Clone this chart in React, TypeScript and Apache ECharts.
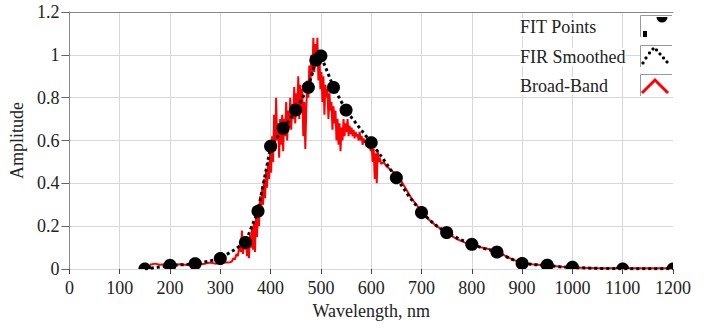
import React, { useEffect, useRef } from "react";
import * as echarts from "echarts";

const xTicks = [0, 100, 200, 300, 400, 500, 600, 700, 800, 900, 1000, 1100, 1200];
const yTicks = [0, 0.2, 0.4, 0.6, 0.8, 1, 1.2];

const fitX = [150, 200, 250, 300, 350, 375, 400, 425, 450, 475, 490, 500, 525, 550, 600, 650, 700, 750, 800, 850, 900, 950, 1000, 1100, 1200];
const fitY = [0, 0.017, 0.025, 0.049, 0.124, 0.27, 0.573, 0.657, 0.742, 0.848, 0.975, 0.995, 0.848, 0.742, 0.59, 0.426, 0.264, 0.17, 0.115, 0.079, 0.026, 0.018, 0.008, 0, 0];

const firX = [150, 175, 200, 225, 250, 275, 300, 325, 350, 375, 400, 425, 450, 475, 490, 500, 525, 550, 575, 600, 625, 650, 675, 700, 725, 750, 775, 800, 825, 850, 875, 900, 925, 950, 975, 1000, 1050, 1100, 1150, 1200];
const firY = [0, 0.008, 0.016, 0.02, 0.025, 0.035, 0.05, 0.085, 0.125, 0.27, 0.57, 0.655, 0.74, 0.85, 0.975, 0.995, 0.85, 0.74, 0.665, 0.59, 0.51, 0.425, 0.34, 0.265, 0.21, 0.17, 0.14, 0.115, 0.095, 0.08, 0.05, 0.027, 0.02, 0.017, 0.01, 0.007, 0.003, 0.001, 0.001, 0.001];

const bbX = [
  160, 170, 180, 190, 200, 210, 220, 230, 240, 250, 260, 270, 280, 290, 300, 310, 320,
  323, 326, 329, 332, 335, 338, 341, 343, 345, 347, 349, 351, 353, 355, 357, 359, 361, 363, 365, 367, 369,
  371, 373, 375, 377, 379, 381, 383, 385, 387, 389, 391, 393, 395, 397, 399, 401, 403, 405, 407, 409,
  411, 413, 415, 417, 419, 421, 423, 425, 427, 429, 431, 433, 435, 437, 439, 441, 443, 445, 447, 449,
  451, 453, 455, 457, 459, 461, 463, 465, 467, 469, 471, 473, 475, 477, 479, 481, 483, 485, 487, 489,
  491, 493, 495, 497, 499, 501, 503, 505, 507, 509, 511, 513, 515, 517, 519, 521, 523, 525, 527, 529,
  531, 533, 535, 537, 539, 541, 543, 545, 547, 549, 551, 553, 555, 557, 559, 561, 563, 565, 567, 569,
  571, 573, 575, 577, 579, 581, 583, 585, 587, 589, 591, 593, 595, 597, 599, 601, 603, 605, 607, 609,
  611, 613, 615, 617, 620, 625, 630, 635, 640, 645, 650, 655, 660, 670, 680, 690, 700, 710, 720, 730,
  740, 750, 760, 770, 780, 790, 800, 820, 840, 850, 860, 880, 900, 920, 950, 980, 1000, 1050, 1100, 1150, 1200
];
const bbY = [
  0.02, 0.025, 0.02, 0.022, 0.018, 0.02, 0.022, 0.02, 0.018, 0.02, 0.022, 0.025, 0.03, 0.025, 0.028, 0.03, 0.032,
  0.035, 0.05, 0.045, 0.07, 0.06, 0.11, 0.08, 0.18, 0.07, 0.13, 0.09, 0.15, 0.06, 0.12, 0.05, 0.16, 0.1, 0.2, 0.09, 0.22, 0.08,
  0.25, 0.15, 0.3, 0.2, 0.34, 0.25, 0.38, 0.3, 0.42, 0.33, 0.46, 0.38, 0.5, 0.42, 0.55, 0.45, 0.62, 0.5, 0.72, 0.55,
  0.8, 0.6, 0.68, 0.52, 0.7, 0.58, 0.72, 0.55, 0.7, 0.62, 0.78, 0.6, 0.74, 0.66, 0.8, 0.65, 0.77, 0.7, 0.85, 0.68,
  0.82, 0.72, 0.9, 0.7, 0.86, 0.74, 0.84, 0.62, 0.78, 0.56, 0.75, 0.88, 0.8, 0.95, 0.85, 1.0, 0.9, 1.08, 0.92, 1.05,
  0.95, 1.08, 0.88, 1.0, 0.84, 0.92, 0.78, 0.9, 0.72, 0.86, 0.8, 0.84, 0.7, 0.82, 0.74, 0.78, 0.65, 0.76, 0.68, 0.74,
  0.6, 0.7, 0.58, 0.68, 0.55, 0.66, 0.6, 0.7, 0.62, 0.68, 0.64, 0.7, 0.62, 0.67, 0.63, 0.66, 0.62, 0.65, 0.61, 0.64,
  0.62, 0.63, 0.6, 0.64, 0.6, 0.62, 0.58, 0.61, 0.59, 0.6, 0.57, 0.6, 0.58, 0.59, 0.55, 0.57, 0.5, 0.56, 0.42, 0.54,
  0.4, 0.55, 0.5, 0.52, 0.49, 0.5, 0.48, 0.47, 0.46, 0.45, 0.44, 0.43, 0.41, 0.37, 0.33, 0.3, 0.27, 0.24, 0.22, 0.2,
  0.185, 0.17, 0.155, 0.14, 0.13, 0.12, 0.115, 0.1, 0.09, 0.08, 0.07, 0.045, 0.028, 0.022, 0.016, 0.01, 0.007, 0.004, 0.003, 0.003, 0.003
];

const legendNames = ["FIT Points", "FIR Smoothed", "Broad-Band"];

const FONT = '"Liberation Serif", "Times New Roman", serif';

export default function App() {
  const ref = useRef<HTMLDivElement>(null);
  useEffect(() => {
    if (!ref.current) return;
    const chart = echarts.init(ref.current, undefined, { renderer: "svg" });
    const fitData = fitX.map((x, i) => [x, fitY[i]]);
    const firData = firX.map((x, i) => [x, firY[i]]);
    const bbData = bbX.map((x, i) => [x, bbY[i]]);
    const labelStyle = { fontFamily: FONT, fontSize: 18, color: "#222" };
    const legendY = [27, 57, 86];
    const boxTop = [15, 45, 74];
    const graphic: any[] = [];
    legendNames.forEach((name, i) => {
      graphic.push({
        type: "text",
        z: 100,
        style: {
          text: name,
          x: 520,
          y: legendY[i],
          font: `18px ${FONT}`,
          fill: "#222",
          verticalAlign: "middle",
          backgroundColor: "#fff",
        },
      });
      graphic.push({
        type: "rect",
        z: 100,
        shape: { x: 640, y: boxTop[i], width: 33, height: 22 },
        style: { fill: "#fff", stroke: null },
      });
      graphic.push({
        type: "polyline",
        z: 101,
        shape: { points: [[640.5, boxTop[i] + 22], [640.5, boxTop[i] + 0.5], [672, boxTop[i] + 0.5]] },
        style: { stroke: "#999", lineWidth: 1, fill: null },
      });
    });
    graphic.push({ type: "rect", z: 102, shape: { x: 643, y: 31, width: 4, height: 6 }, style: { fill: "#000" } });
    graphic.push({ type: "sector", z: 102, shape: { cx: 662, cy: 17, r0: 0, r: 5.5, startAngle: 0, endAngle: Math.PI }, style: { fill: "#000" } });
    [[643, 63], [646, 58], [649.5, 53], [653, 49], [656.5, 50], [660, 54], [663.5, 58], [667, 62]].forEach((p) => {
      graphic.push({ type: "circle", z: 102, shape: { cx: p[0], cy: p[1], r: 1.6 }, style: { fill: "#000" } });
    });
    graphic.push({
      type: "polyline",
      z: 102,
      shape: { points: [[642, 93], [655, 80], [668, 93]] },
      style: { stroke: "#ff0000", lineWidth: 3, fill: null },
    });

    chart.setOption({
      animation: false,
      backgroundColor: "#fff",
      grid: { left: 68, top: 12, right: 31, bottom: 61, containLabel: false },
      xAxis: [
        {
          type: "value",
          min: 0,
          max: 1200,
          interval: 100,
          offset: 3,
          name: "Wavelength, nm",
          nameLocation: "middle",
          nameGap: 30,
          nameTextStyle: { fontFamily: FONT, fontSize: 18, color: "#222" },
          axisLine: { show: false },
          axisTick: { show: true, length: 5, lineStyle: { color: "#444" } },
          axisLabel: { ...labelStyle, margin: 7, formatter: (v: number) => String(v) },
          splitLine: { show: true, showMaxLine: false, lineStyle: { color: "#d8d8d8", width: 1 } },
        },
        {
          type: "value",
          position: "top",
          min: 0,
          max: 1200,
          interval: 100,
          axisLine: { show: true, lineStyle: { color: "#888", width: 1 } },
          axisTick: { show: false },
          axisLabel: { show: false },
          splitLine: { show: false },
        },
      ],
      yAxis: {
        type: "value",
        min: 0,
        max: 1.2,
        interval: 0.2,
        name: "Amplitude",
        nameLocation: "middle",
        nameGap: 37,
        nameTextStyle: { fontFamily: FONT, fontSize: 18, color: "#222" },
        axisLine: { show: true, lineStyle: { color: "#888", width: 1 } },
        axisTick: { show: true, length: 8, lineStyle: { color: "#666" } },
        axisLabel: { ...labelStyle, margin: 10, formatter: (v: number) => String(Math.round(v * 10) / 10) },
        splitLine: { show: true, showMaxLine: false, lineStyle: { color: "#d8d8d8", width: 1 } },
      },
      series: [
        {
          name: "Broad-Band",
          type: "line",
          data: bbData,
          showSymbol: false,
          symbol: "none",
          lineStyle: { color: "#ff0000", width: 2 },
          clip: true,
          z: 2,
        },
        {
          name: "FIR Smoothed",
          type: "line",
          data: firData,
          showSymbol: false,
          symbol: "none",
          lineStyle: { color: "#000", width: 3, type: [3, 3] },
          clip: true,
          z: 3,
        },
        {
          name: "FIT Points",
          type: "custom",
          data: fitData,
          clip: true,
          z: 4,
          renderItem: (params: any, api: any) => {
            const p = api.coord([api.value(0), api.value(1)]);
            const cs = params.coordSys;
            const r = 6.5;
            const pts: number[][] = [];
            for (let k = 0; k < 40; k++) {
              const a = (k / 40) * Math.PI * 2;
              let x = p[0] + r * Math.cos(a);
              let y = p[1] + r * Math.sin(a);
              x = Math.min(Math.max(x, cs.x), cs.x + cs.width);
              y = Math.min(Math.max(y, cs.y), cs.y + cs.height);
              pts.push([x, y]);
            }
            return { type: "polygon", shape: { points: pts }, style: { fill: "#000" } };
          },
        },
      ],
      graphic,
    });
    return () => chart.dispose();
  }, []);
  return <div ref={ref} style={{ position: "fixed", left: 0, top: 0, width: 704, height: 330 }} />;
}
